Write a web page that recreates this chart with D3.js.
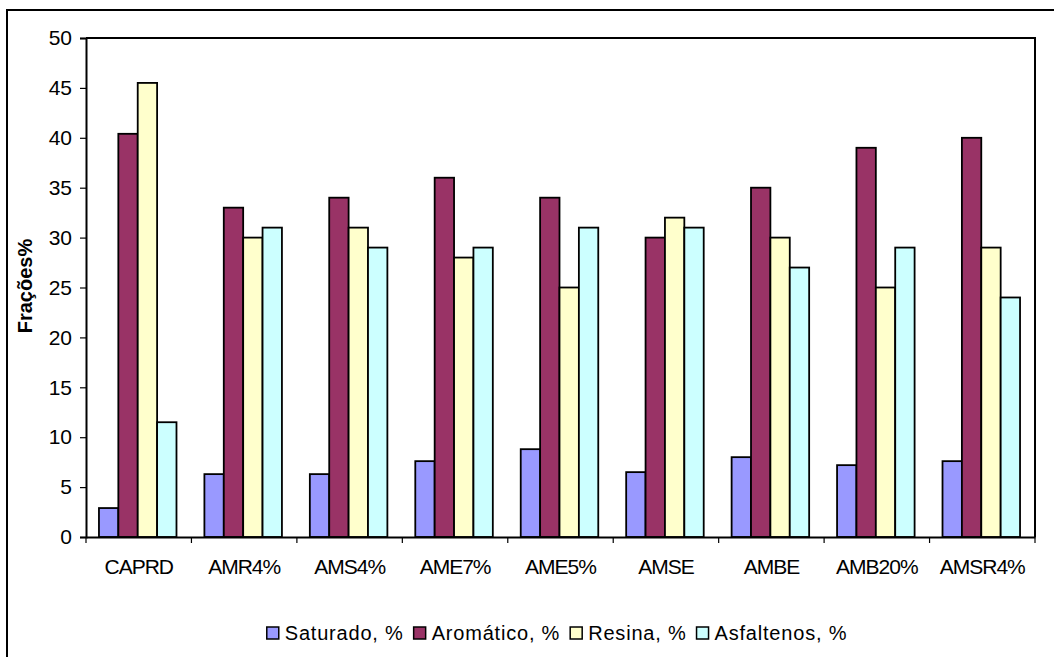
<!DOCTYPE html>
<html>
<head>
<meta charset="utf-8">
<script src="https://cdn.jsdelivr.net/npm/d3@7"></script>
<style>
  html, body { margin: 0; padding: 0; background: #fff; }
  svg { display: block; font-family: "Liberation Sans", Arial, sans-serif; }
</style>
</head>
<body>
<svg id="chart" width="1054" height="657"></svg>
<script>
// Samples and fraction series (%)
const categories = ["CAPRD", "AMR4%", "AMS4%", "AME7%", "AME5%", "AMSE", "AMBE", "AMB20%", "AMSR4%"];
const seriesNames = ["Saturado, %", "Aromático, %", "Resina, %", "Asfaltenos, %"];
const saturado   = [2.9, 6.3, 6.3, 7.6, 8.8, 6.5, 8.0, 7.2, 7.6];
const aromatico  = [40.4, 33, 34, 36, 34, 30, 35, 39, 40];
const resina     = [45.5, 30, 31, 28, 25, 32, 30, 25, 29];
const asfaltenos = [11.5, 31, 29, 29, 31, 31, 27, 29, 24];
const seriesValues = [saturado, aromatico, resina, asfaltenos];
const seriesColors = ["#9999FF", "#993366", "#FFFFCC", "#CCFFFF"];
const yTicks = [0, 5, 10, 15, 20, 25, 30, 35, 40, 45, 50];
const yTitle = "Frações%";

const svg = d3.select("#chart");

// outer chart frame (runs past the right and bottom edges)
svg.append("rect")
  .attr("x", 7).attr("y", 10).attr("width", 1200).attr("height", 800)
  .attr("fill", "none").attr("stroke", "#000").attr("stroke-width", 2);

const plot = { left: 86, top: 38, right: 1035, bottom: 537 };

const x0 = d3.scaleBand().domain(categories).range([plot.left, plot.right]).padding(0);
const x1 = d3.scaleBand().domain(d3.range(seriesNames.length))
  .range([0, x0.bandwidth()]).paddingInner(0).paddingOuter(0.72);
const y = d3.scaleLinear().domain([0, 50]).range([plot.bottom, plot.top]);

// plot frame: top and right
svg.append("path")
  .attr("d", `M${plot.left},${plot.top}H${plot.right}V${plot.bottom}`)
  .attr("fill", "none").attr("stroke", "#000").attr("stroke-width", 2);

// bars
const groups = svg.append("g").selectAll("g")
  .data(categories)
  .join("g")
  .attr("transform", d => `translate(${x0(d) - 1},0)`);

groups.selectAll("rect")
  .data((c, i) => seriesValues.map((vals, s) => ({ s, v: vals[i] })))
  .join("rect")
  .attr("x", d => x1(d.s))
  .attr("width", x1.bandwidth())
  .attr("y", d => y(d.v))
  .attr("height", d => y(0) - y(d.v))
  .attr("fill", d => seriesColors[d.s])
  .attr("stroke", "#000")
  .attr("stroke-width", 1.8);

// y axis
const yAxis = svg.append("g")
  .attr("transform", `translate(${plot.left},0)`)
  .call(d3.axisLeft(y).tickValues(yTicks).tickSize(6).tickPadding(8));
yAxis.select(".domain").attr("stroke-width", 2);
yAxis.selectAll(".tick line").attr("stroke-width", 1.2);
yAxis.selectAll("text")
  .attr("font-size", 21).attr("fill", "#000")
  .attr("font-family", "'Liberation Sans', Arial, sans-serif");

// x axis: ticks at category boundaries
const xAxis = svg.append("g")
  .attr("transform", `translate(0,${plot.bottom})`)
  .call(d3.axisBottom(x0).tickSize(0).tickPadding(22));
xAxis.select(".domain").attr("stroke-width", 2);
xAxis.selectAll("text")
  .attr("font-size", 21).attr("fill", "#000")
  .attr("letter-spacing", "-1px")
  .attr("font-family", "'Liberation Sans', Arial, sans-serif");

const boundaries = categories.map(c => x0(c)).concat([plot.right]);
svg.append("g").selectAll("line")
  .data(boundaries)
  .join("line")
  .attr("x1", d => d).attr("x2", d => d)
  .attr("y1", plot.bottom).attr("y2", plot.bottom + 6)
  .attr("stroke", "#000").attr("stroke-width", 1.2);

// y axis title
svg.append("text")
  .attr("transform", `translate(32,${(232 + 340) / 2}) rotate(-90)`)
  .attr("text-anchor", "middle")
  .attr("font-size", 20).attr("font-weight", "bold")
  .text(yTitle);

// legend
const legend = svg.append("g");
const items = legend.selectAll("g").data(seriesNames).join("g");
items.append("rect")
  .attr("width", 12).attr("height", 12)
  .attr("fill", (d, i) => seriesColors[i])
  .attr("stroke", "#000").attr("stroke-width", 1.5);
items.append("text")
  .attr("x", 18).attr("y", 13)
  .attr("font-size", 20).attr("letter-spacing", "0.8px")
  .text(d => d);

let cursor = 0;
items.each(function () {
  const g = d3.select(this);
  const w = g.select("text").node().getComputedTextLength();
  g.attr("transform", `translate(${cursor},0)`);
  cursor += 18 + w + 10;
});
const legendWidth = cursor - 10;
legend.attr("transform", `translate(${557 - legendWidth / 2},627)`);
</script>
</body>
</html>
